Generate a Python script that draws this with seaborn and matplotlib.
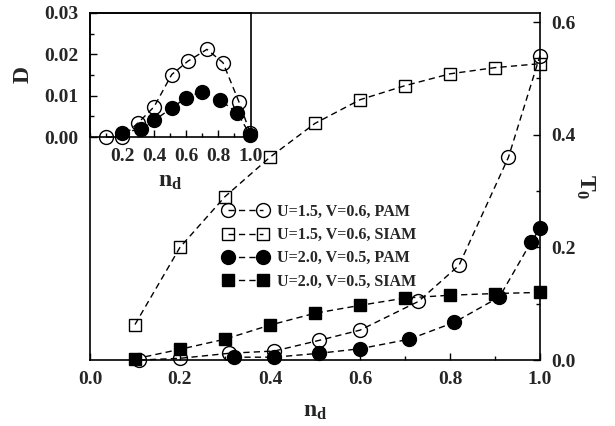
import matplotlib
matplotlib.use("Agg")
import matplotlib.pyplot as plt
import seaborn as sns
import pandas as pd
from matplotlib.ticker import MultipleLocator, FormatStrFormatter
from matplotlib.lines import Line2D

# main panel: T0 against n_d
nd_pam15 = [0.11, 0.2, 0.31, 0.41, 0.51, 0.6, 0.73, 0.82, 0.93, 1.0]
t0_pam15 = [0.0, 0.003, 0.012, 0.016, 0.035, 0.053, 0.104, 0.168, 0.36, 0.54]

nd_siam15 = [0.1, 0.2, 0.3, 0.4, 0.5, 0.6, 0.7, 0.8, 0.9, 1.0]
t0_siam15 = [0.063, 0.20, 0.29, 0.36, 0.42, 0.462, 0.487, 0.508, 0.519, 0.526]

nd_pam20 = [0.32, 0.41, 0.51, 0.6, 0.71, 0.81, 0.91, 0.98, 1.0]
t0_pam20 = [0.005, 0.005, 0.012, 0.02, 0.037, 0.067, 0.112, 0.209, 0.234]

nd_siam20 = [0.1, 0.2, 0.3, 0.4, 0.5, 0.6, 0.7, 0.8, 0.9, 1.0]
t0_siam20 = [0.002, 0.019, 0.037, 0.062, 0.083, 0.097, 0.11, 0.115, 0.118, 0.12]

# inset: D against n_d
nd_d15 = [0.1, 0.2, 0.3, 0.4, 0.51, 0.61, 0.73, 0.83, 0.93, 1.0]
d_15 = [0.0, 0.0, 0.0034, 0.0073, 0.0151, 0.0183, 0.0212, 0.018, 0.0085, 0.001]

nd_d20 = [0.2, 0.32, 0.4, 0.51, 0.6, 0.7, 0.81, 0.92, 1.0]
d_20 = [0.001, 0.002, 0.004, 0.007, 0.0095, 0.011, 0.009, 0.0058, 0.0005]

labels = ["U=1.5, V=0.6, PAM", "U=1.5, V=0.6, SIAM",
          "U=2.0, V=0.5, PAM", "U=2.0, V=0.5, SIAM"]

sns.set_theme(style="ticks")
plt.rcParams['font.family'] = ['Liberation Serif', 'DejaVu Serif']
plt.rcParams['font.weight'] = 'bold'
plt.rcParams['mathtext.fontset'] = 'custom'
plt.rcParams['mathtext.rm'] = 'Liberation Serif:bold'
plt.rcParams['mathtext.bf'] = 'Liberation Serif:bold'
plt.rcParams['mathtext.it'] = 'Liberation Serif:bold'

dash = (0, (4.5, 3))
styles = [
    dict(marker='o', markersize=10, markerfacecolor='none'),
    dict(marker='s', markersize=9, markerfacecolor='none'),
    dict(marker='o', markersize=10, markerfacecolor='black'),
    dict(marker='s', markersize=9, markerfacecolor='black'),
]
common = dict(color='black', linewidth=1.0, linestyle=dash,
              markeredgecolor='black', markeredgewidth=1.0, clip_on=False)

fig = plt.figure(figsize=(6.15, 4.26), dpi=100)
ax = fig.add_axes([0.1463, 0.1549, 0.7317, 0.8146])

series = [(nd_pam15, t0_pam15), (nd_siam15, t0_siam15),
          (nd_pam20, t0_pam20), (nd_siam20, t0_siam20)]
for (x, y), st in zip(series, styles):
    df = pd.DataFrame({'nd': x, 't0': y})
    sns.lineplot(data=df, x='nd', y='t0', ax=ax, sort=False,
                 estimator=None, **st, **common)

ax.set_xlim(0, 1.0)
ax.set_ylim(0, 0.616)
ax.yaxis.tick_right()
ax.yaxis.set_label_position('right')
ax.xaxis.set_major_locator(MultipleLocator(0.2))
ax.xaxis.set_minor_locator(MultipleLocator(0.1))
ax.yaxis.set_major_locator(MultipleLocator(0.2))
ax.yaxis.set_minor_locator(MultipleLocator(0.1))
ax.xaxis.set_major_formatter(FormatStrFormatter('%.1f'))
ax.yaxis.set_major_formatter(FormatStrFormatter('%.1f'))
ax.tick_params(which='both', direction='in', labelsize=14, pad=8,
               width=1.0, color='black')
ax.tick_params(which='major', length=5)
ax.tick_params(which='minor', length=3)
ax.set_xlabel(r'$\mathbf{n_d}$', fontsize=17, labelpad=9)
ax.set_ylabel(r'$\mathbf{T_0}$', fontsize=17, rotation=270, labelpad=15)
for sp in ax.spines.values():
    sp.set_linewidth(1.2)
    sp.set_color('black')

handles = [Line2D([], [], **st, **common) for st in styles]
ax.legend(handles, labels, loc='upper left', bbox_to_anchor=(223 / 615, 1 - 204 / 426),
          bbox_transform=fig.transFigure, frameon=False, numpoints=2,
          handlelength=2.8, handletextpad=0.6, labelspacing=0.45,
          borderpad=0, borderaxespad=0, prop={'size': 11.5, 'weight': 'bold'})

# inset
ins = fig.add_axes([0.1463, 0.6784, 0.2618, 0.2911])
ins.patch.set_alpha(0)
for (x, y), st in zip([(nd_d15, d_15), (nd_d20, d_20)], [styles[0], styles[2]]):
    df = pd.DataFrame({'nd': x, 'D': y})
    sns.lineplot(data=df, x='nd', y='D', ax=ins, sort=False,
                 estimator=None, **st, **common)
ins.set_xlim(0, 1.005)
ins.set_ylim(0, 0.03)
ins.set_xticks([0.2, 0.4, 0.6, 0.8, 1.0])
ins.xaxis.set_minor_locator(MultipleLocator(0.1))
ins.yaxis.set_major_locator(MultipleLocator(0.01))
ins.yaxis.set_minor_locator(MultipleLocator(0.005))
ins.xaxis.set_major_formatter(FormatStrFormatter('%.1f'))
ins.yaxis.set_major_formatter(FormatStrFormatter('%.2f'))
ins.tick_params(which='both', direction='in', labelsize=14, pad=8,
                width=1.0, color='black')
ins.tick_params(which='major', length=5)
ins.tick_params(which='minor', length=3)
ins.set_xlabel(r'$\mathbf{n_d}$', fontsize=17, labelpad=4)
ins.set_ylabel('D', fontsize=17, fontweight='bold', labelpad=8)
for sp in ins.spines.values():
    sp.set_linewidth(1.2)
    sp.set_color('black')

fig.savefig('out.png', dpi=100)
